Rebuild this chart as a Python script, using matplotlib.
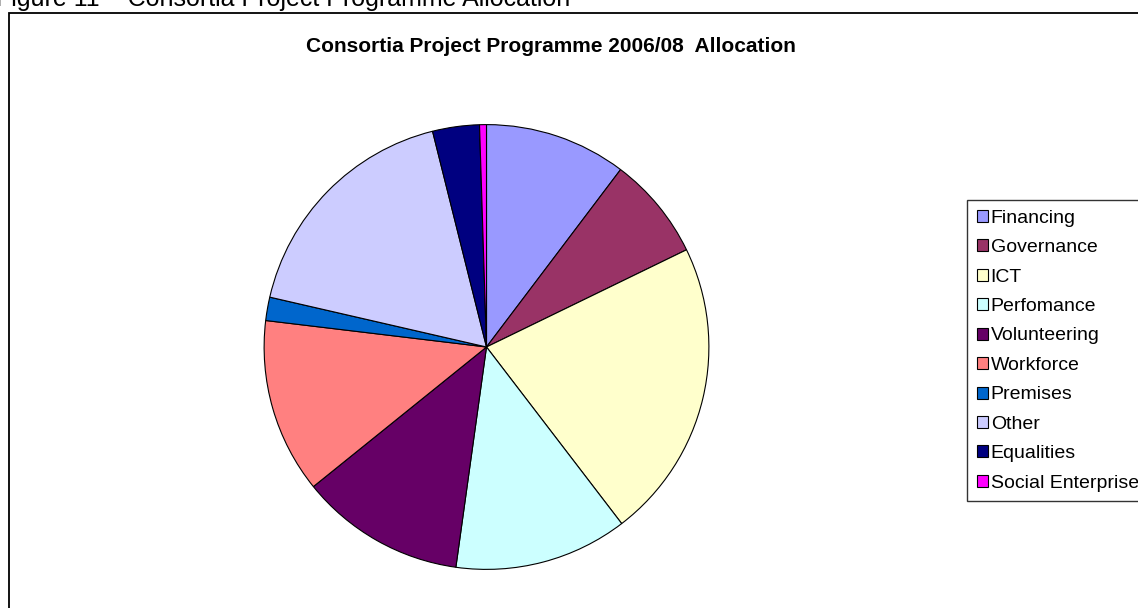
import matplotlib
matplotlib.use("Agg")
import matplotlib.pyplot as plt
from matplotlib.patches import Patch, Rectangle

plt.rcParams['font.family'] = ['Liberation Sans', 'DejaVu Sans']

# allocation shares (%), clockwise from 12 o'clock
labels = ['Financing', 'Governance', 'ICT', 'Perfomance', 'Volunteering',
          'Workforce', 'Premises', 'Other', 'Equalities', 'Social Enterprise']
shares = [10.3, 7.5, 21.8, 12.6, 12.0, 12.7, 1.7, 17.5, 3.4, 0.5]
colors = ['#9999FF', '#993366', '#FFFFCC', '#CCFFFF', '#660066',
          '#FF8080', '#0066CC', '#CCCCFF', '#000080', '#FF00FF']

W, H = 1138, 608
fig = plt.figure(figsize=(W / 100, H / 100), dpi=100)

# caption above the chart, cut off at the top of the picture (as in the source)
fig.text(-4 / W, 1 - 6 / H, 'Figure 11 \u2013 Consortia Project Programme Allocation',
         fontsize=18, ha='left', va='baseline')

# chart area frame (runs off the right and bottom edges)
fig.patches.append(Rectangle((8.5 / W, -0.05), 1.2, 1 - 12.5 / H + 0.05,
                             transform=fig.transFigure, fill=False,
                             edgecolor='black', linewidth=1.3))

fig.text(551 / W, 1 - 47 / H, 'Consortia Project Programme 2006/08  Allocation',
         fontsize=15, fontweight='bold', ha='center', va='center')

cx, cy, r = 486.5, 347, 223.5
ax = fig.add_axes([(cx - r) / W, (H - cy - r) / H, 2 * r / W, 2 * r / H])
ax.pie(shares, colors=colors, startangle=90, counterclock=False,
       wedgeprops=dict(edgecolor='black', linewidth=0.8))
ax.set_xlim(-1.005, 1.005)
ax.set_ylim(-1.005, 1.005)
ax.set_aspect('equal')
ax.axis('off')

handles = [Patch(facecolor=c, edgecolor='black', linewidth=0.8) for c in colors]
leg = fig.legend(handles, labels, loc='upper left',
                 bbox_to_anchor=(967 / W, 1 - 200 / H), fontsize=14,
                 handlelength=0.57, handleheight=0.57, handletextpad=0.15,
                 labelspacing=0.64, borderpad=0.5, borderaxespad=0,
                 fancybox=False, frameon=True)
leg.get_frame().set_edgecolor('black')
leg.get_frame().set_linewidth(1.0)

fig.savefig('out.png', dpi=100)
